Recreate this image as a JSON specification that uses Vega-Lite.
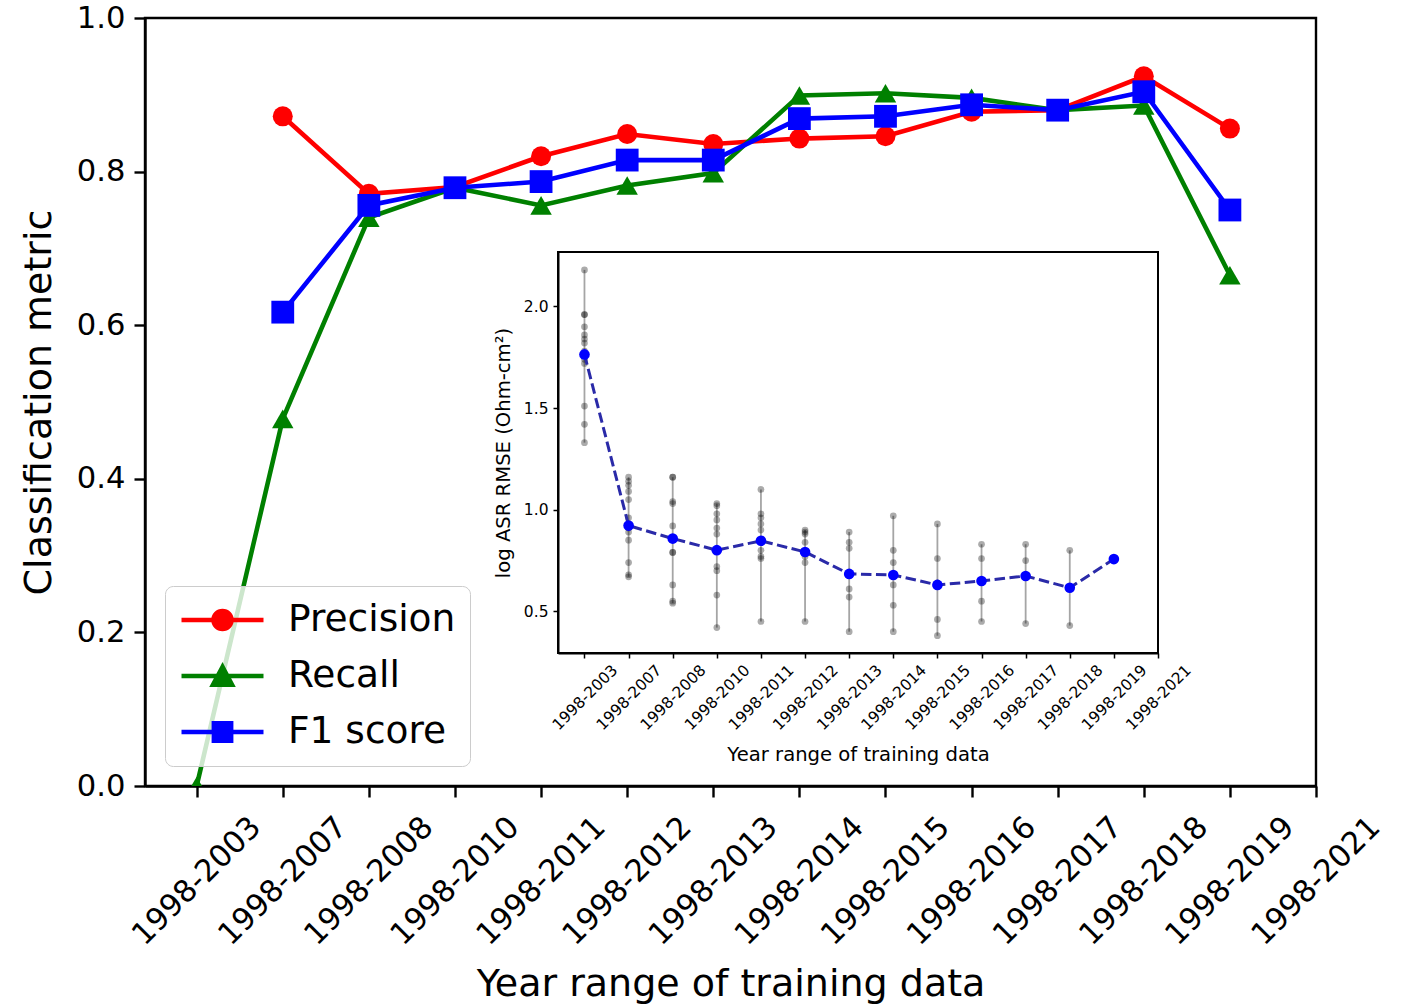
{
  "$schema": "https://vega.github.io/schema/vega-lite/v6.json",
  "width": 1171,
  "height": 768,
  "autosize": {"type": "none"},
  "padding": {"left": 145, "top": 18, "right": 92, "bottom": 219},
  "background": "white",
  "config": {
    "font": "DejaVu Sans",
    "view": {"stroke": "black", "strokeWidth": 2.4},
    "axis": {
      "grid": false,
      "domainColor": "black",
      "tickColor": "black",
      "labelColor": "black",
      "titleColor": "black",
      "labelFont": "DejaVu Sans",
      "titleFont": "DejaVu Sans",
      "titleFontWeight": "normal",
      "labelOverlap": false,
      "labelFlush": false,
      "labelBound": false
    }
  },
  "datasets": {
    "metrics": [
      {"idx": 1, "metric": "Precision", "value": 0.872},
      {"idx": 2, "metric": "Precision", "value": 0.771},
      {"idx": 3, "metric": "Precision", "value": 0.780},
      {"idx": 4, "metric": "Precision", "value": 0.820},
      {"idx": 5, "metric": "Precision", "value": 0.849},
      {"idx": 6, "metric": "Precision", "value": 0.836},
      {"idx": 7, "metric": "Precision", "value": 0.843},
      {"idx": 8, "metric": "Precision", "value": 0.846},
      {"idx": 9, "metric": "Precision", "value": 0.878},
      {"idx": 10, "metric": "Precision", "value": 0.880},
      {"idx": 11, "metric": "Precision", "value": 0.924},
      {"idx": 12, "metric": "Precision", "value": 0.856},
      {"idx": 0, "metric": "Recall", "value": 0.0},
      {"idx": 1, "metric": "Recall", "value": 0.478},
      {"idx": 2, "metric": "Recall", "value": 0.740},
      {"idx": 3, "metric": "Recall", "value": 0.779},
      {"idx": 4, "metric": "Recall", "value": 0.756},
      {"idx": 5, "metric": "Recall", "value": 0.782},
      {"idx": 6, "metric": "Recall", "value": 0.798},
      {"idx": 7, "metric": "Recall", "value": 0.899},
      {"idx": 8, "metric": "Recall", "value": 0.902},
      {"idx": 9, "metric": "Recall", "value": 0.896},
      {"idx": 10, "metric": "Recall", "value": 0.880},
      {"idx": 11, "metric": "Recall", "value": 0.886},
      {"idx": 12, "metric": "Recall", "value": 0.665},
      {"idx": 1, "metric": "F1 score", "value": 0.617},
      {"idx": 2, "metric": "F1 score", "value": 0.756},
      {"idx": 3, "metric": "F1 score", "value": 0.779},
      {"idx": 4, "metric": "F1 score", "value": 0.787},
      {"idx": 5, "metric": "F1 score", "value": 0.815},
      {"idx": 6, "metric": "F1 score", "value": 0.815},
      {"idx": 7, "metric": "F1 score", "value": 0.869},
      {"idx": 8, "metric": "F1 score", "value": 0.872},
      {"idx": 9, "metric": "F1 score", "value": 0.887},
      {"idx": 10, "metric": "F1 score", "value": 0.880},
      {"idx": 11, "metric": "F1 score", "value": 0.904},
      {"idx": 12, "metric": "F1 score", "value": 0.750}
    ],
    "runs": [
      {"idx": 0, "v": 2.18}, {"idx": 0, "v": 1.96}, {"idx": 0, "v": 1.96}, {"idx": 0, "v": 1.90},
      {"idx": 0, "v": 1.86}, {"idx": 0, "v": 1.84}, {"idx": 0, "v": 1.82}, {"idx": 0, "v": 1.78},
      {"idx": 0, "v": 1.74}, {"idx": 0, "v": 1.72}, {"idx": 0, "v": 1.51}, {"idx": 0, "v": 1.42},
      {"idx": 0, "v": 1.33},
      {"idx": 1, "v": 1.16}, {"idx": 1, "v": 1.14}, {"idx": 1, "v": 1.12}, {"idx": 1, "v": 1.09},
      {"idx": 1, "v": 1.05}, {"idx": 1, "v": 0.96}, {"idx": 1, "v": 0.91}, {"idx": 1, "v": 0.89},
      {"idx": 1, "v": 0.85}, {"idx": 1, "v": 0.74}, {"idx": 1, "v": 0.68}, {"idx": 1, "v": 0.67},
      {"idx": 2, "v": 1.16}, {"idx": 2, "v": 1.16}, {"idx": 2, "v": 1.04}, {"idx": 2, "v": 1.03},
      {"idx": 2, "v": 0.92}, {"idx": 2, "v": 0.86}, {"idx": 2, "v": 0.79}, {"idx": 2, "v": 0.79},
      {"idx": 2, "v": 0.63}, {"idx": 2, "v": 0.55}, {"idx": 2, "v": 0.54},
      {"idx": 3, "v": 1.03}, {"idx": 3, "v": 1.02}, {"idx": 3, "v": 0.98}, {"idx": 3, "v": 0.95},
      {"idx": 3, "v": 0.91}, {"idx": 3, "v": 0.88}, {"idx": 3, "v": 0.80}, {"idx": 3, "v": 0.72},
      {"idx": 3, "v": 0.70}, {"idx": 3, "v": 0.58}, {"idx": 3, "v": 0.42},
      {"idx": 4, "v": 1.10}, {"idx": 4, "v": 0.98}, {"idx": 4, "v": 0.96}, {"idx": 4, "v": 0.93},
      {"idx": 4, "v": 0.90}, {"idx": 4, "v": 0.80}, {"idx": 4, "v": 0.77}, {"idx": 4, "v": 0.76},
      {"idx": 4, "v": 0.45},
      {"idx": 5, "v": 0.90}, {"idx": 5, "v": 0.89}, {"idx": 5, "v": 0.88}, {"idx": 5, "v": 0.84},
      {"idx": 5, "v": 0.79}, {"idx": 5, "v": 0.77}, {"idx": 5, "v": 0.74}, {"idx": 5, "v": 0.45},
      {"idx": 6, "v": 0.89}, {"idx": 6, "v": 0.84}, {"idx": 6, "v": 0.81}, {"idx": 6, "v": 0.69},
      {"idx": 6, "v": 0.61}, {"idx": 6, "v": 0.57}, {"idx": 6, "v": 0.40},
      {"idx": 7, "v": 0.97}, {"idx": 7, "v": 0.80}, {"idx": 7, "v": 0.74}, {"idx": 7, "v": 0.68},
      {"idx": 7, "v": 0.63}, {"idx": 7, "v": 0.53}, {"idx": 7, "v": 0.40},
      {"idx": 8, "v": 0.93}, {"idx": 8, "v": 0.76}, {"idx": 8, "v": 0.64}, {"idx": 8, "v": 0.46},
      {"idx": 8, "v": 0.38},
      {"idx": 9, "v": 0.83}, {"idx": 9, "v": 0.76}, {"idx": 9, "v": 0.65}, {"idx": 9, "v": 0.55},
      {"idx": 9, "v": 0.45},
      {"idx": 10, "v": 0.83}, {"idx": 10, "v": 0.75}, {"idx": 10, "v": 0.67}, {"idx": 10, "v": 0.44},
      {"idx": 11, "v": 0.80}, {"idx": 11, "v": 0.62}, {"idx": 11, "v": 0.43},
      {"idx": 12, "v": 0.757}
    ],
    "means": [
      {"idx": 0, "mean": 1.764},
      {"idx": 1, "mean": 0.922},
      {"idx": 2, "mean": 0.858},
      {"idx": 3, "mean": 0.801},
      {"idx": 4, "mean": 0.847},
      {"idx": 5, "mean": 0.792},
      {"idx": 6, "mean": 0.684},
      {"idx": 7, "mean": 0.679},
      {"idx": 8, "mean": 0.630},
      {"idx": 9, "mean": 0.649},
      {"idx": 10, "mean": 0.674},
      {"idx": 11, "mean": 0.616},
      {"idx": 12, "mean": 0.757}
    ]
  },
  "layer": [
    {
      "data": {"name": "metrics"},
      "encoding": {
        "x": {
          "field": "idx",
          "type": "quantitative",
          "scale": {"domain": [-0.6, 13], "nice": false, "zero": false},
          "axis": {
            "values": [0, 1, 2, 3, 4, 5, 6, 7, 8, 9, 10, 11, 12, 13],
            "labelExpr": "['1998-2003','1998-2007','1998-2008','1998-2010','1998-2011','1998-2012','1998-2013','1998-2014','1998-2015','1998-2016','1998-2017','1998-2018','1998-2019','1998-2021'][datum.value]",
            "labelAngle": -45,
            "labelAlign": "center",
            "labelBaseline": "middle",
            "labelPadding": 84,
            "labelFontSize": 30.6,
            "tickSize": 11,
            "tickWidth": 2.4,
            "domainWidth": 2.4,
            "title": "Year range of training data",
            "titleFontSize": 38,
            "titlePadding": 15
          }
        },
        "y": {
          "field": "value",
          "type": "quantitative",
          "scale": {"domain": [0, 1], "nice": false, "zero": false},
          "axis": {
            "values": [0, 0.2, 0.4, 0.6, 0.8, 1.0],
            "format": ".1f",
            "labelFontSize": 30.6,
            "labelPadding": 9,
            "tickSize": 11,
            "tickWidth": 2.4,
            "domainWidth": 2.4,
            "title": "Classification metric",
            "titleFontSize": 38,
            "titlePadding": 18
          }
        },
        "color": {
          "field": "metric",
          "type": "nominal",
          "scale": {"domain": ["Precision", "Recall", "F1 score"], "range": ["#ff0000", "#008000", "#0000ff"]},
          "legend": {
            "title": null,
            "orient": "bottom-left",
            "offset": 20,
            "zindex": 1,
            "labelFontSize": 37.5,
            "labelFont": "DejaVu Sans",
            "labelColor": "black",
            "labelLimit": 500,
            "labelOffset": 22,
            "symbolSize": 6724,
            "symbolStrokeWidth": 4.6,
            "clipHeight": 40,
            "rowPadding": 16,
            "padding": 14,
            "fillColor": "rgba(255,255,255,0.8)",
            "strokeColor": "#cccccc",
            "cornerRadius": 8,
            "encode": {
              "symbols": {
                "update": {
                  "shape": {"signal": "datum.value === 'Precision' ? 'M-1,0H1M0.22,0A0.22,0.22,0,1,1,-0.22,0A0.22,0.22,0,1,1,0.22,0Z' : datum.value === 'Recall' ? 'M-1,0H1M0,-0.22L-0.23,0.21L0.23,0.21Z' : 'M-1,0H1M-0.21,-0.21H0.21V0.21H-0.21Z'"},
                  "fill": {"scale": "color", "field": "value"},
                  "stroke": {"scale": "color", "field": "value"},
                  "strokeWidth": {"value": 4.6},
                  "opacity": {"value": 1},
                  "fillOpacity": {"value": 1},
                  "strokeOpacity": {"value": 1}
                }
              }
            }
          }
        }
      },
      "layer": [
        {"mark": {"type": "line", "strokeWidth": 4.6, "clip": true}},
        {
          "mark": {"type": "point", "filled": true, "opacity": 1, "clip": true},
          "encoding": {
            "shape": {
              "field": "metric",
              "type": "nominal",
              "scale": {"domain": ["Precision", "Recall", "F1 score"], "range": ["circle", "triangle-up", "square"]},
              "legend": null
            },
            "size": {
              "field": "metric",
              "type": "nominal",
              "scale": {"domain": ["Precision", "Recall", "F1 score"], "range": [400, 520, 470]},
              "legend": null
            }
          }
        }
      ]
    },
    {
      "layer": [
        {
          "data": {"values": [{"x0": -0.6, "x1": 13, "y0": 0.295, "y1": 2.268}]},
          "mark": {"type": "rect", "fill": "white", "stroke": "black", "strokeWidth": 2},
          "encoding": {
            "x": {
              "field": "x0",
              "type": "quantitative",
              "scale": {"domain": [-0.6, 13], "nice": false, "zero": false, "range": [413, 1013]},
              "axis": {
                "orient": "bottom",
                "offset": -133,
                "zindex": 1,
                "values": [0, 1, 2, 3, 4, 5, 6, 7, 8, 9, 10, 11, 12, 13],
                "labelExpr": "['1998-2003','1998-2007','1998-2008','1998-2010','1998-2011','1998-2012','1998-2013','1998-2014','1998-2015','1998-2016','1998-2017','1998-2018','1998-2019','1998-2021'][datum.value]",
                "labelAngle": -45,
                "labelAlign": "center",
                "labelBaseline": "middle",
                "labelPadding": 39,
                "labelFontSize": 15.5,
                "tickSize": 5,
                "tickWidth": 1.5,
                "domainWidth": 2,
                "title": "Year range of training data",
                "titleFontSize": 19.6,
                "titlePadding": 13
              }
            },
            "x2": {"field": "x1"},
            "y": {
              "field": "y0",
              "type": "quantitative",
              "scale": {"domain": [0.295, 2.268], "nice": false, "zero": false, "range": [635, 234]},
              "axis": {
                "orient": "left",
                "offset": -413,
                "zindex": 1,
                "values": [0.5, 1.0, 1.5, 2.0],
                "format": ".1f",
                "labelFontSize": 15.5,
                "labelPadding": 5,
                "tickSize": 5,
                "tickWidth": 1.5,
                "domainWidth": 2,
                "title": "log ASR RMSE (Ohm-cm²)",
                "titleFontSize": 19.6,
                "titlePadding": 10
              }
            },
            "y2": {"field": "y1"}
          }
        },
        {
          "data": {"name": "runs"},
          "mark": {"type": "rule", "color": "#7f7f7f", "opacity": 0.7, "strokeWidth": 1.8},
          "encoding": {
            "x": {"field": "idx", "type": "quantitative"},
            "y": {"field": "v", "type": "quantitative", "aggregate": "min"},
            "y2": {"field": "v", "aggregate": "max"}
          }
        },
        {
          "data": {"name": "runs"},
          "mark": {"type": "circle", "color": "black", "opacity": 0.33, "size": 45},
          "encoding": {
            "x": {"field": "idx", "type": "quantitative"},
            "y": {"field": "v", "type": "quantitative"}
          }
        },
        {
          "data": {"name": "means"},
          "mark": {"type": "line", "color": "#2a2aa8", "strokeWidth": 3, "strokeDash": [10.5, 4.5]},
          "encoding": {
            "x": {"field": "idx", "type": "quantitative"},
            "y": {"field": "mean", "type": "quantitative"}
          }
        },
        {
          "data": {"name": "means"},
          "mark": {"type": "circle", "color": "#0000ff", "opacity": 1, "size": 113},
          "encoding": {
            "x": {"field": "idx", "type": "quantitative"},
            "y": {"field": "mean", "type": "quantitative"}
          }
        }
      ]
    }
  ],
  "resolve": {
    "scale": {"x": "independent", "y": "independent", "color": "independent"},
    "axis": {"x": "independent", "y": "independent"}
  }
}
